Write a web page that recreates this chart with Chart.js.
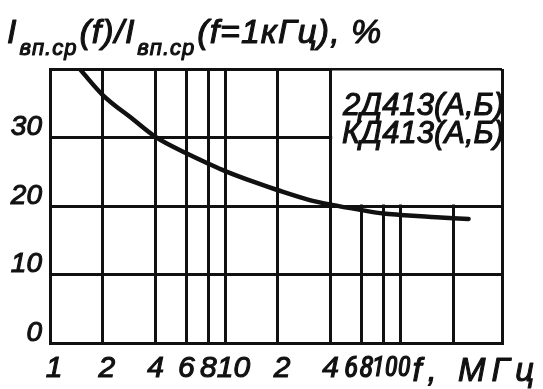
<!DOCTYPE html>
<html>
<head>
<meta charset="utf-8">
<script src="https://cdn.jsdelivr.net/npm/chart.js@4.4.1/dist/chart.umd.min.js"></script>
<style>
  html, body { margin: 0; padding: 0; background: #fff; }
</style>
</head>
<body>
<canvas id="chart" width="543" height="389"></canvas>
<script>
// f, MHz  ->  I(f)/I(f=1kHz), %
const freqMHz = [1.5, 2, 3, 4, 6, 8, 10, 15, 20, 30, 40, 60, 80, 100, 150, 200, 245];
const ratioPct = [39.8, 36.2, 32.6, 30.1, 27.7, 26.2, 25.1, 23.4, 22.3, 20.9, 20.2, 19.4, 18.9, 18.7, 18.4, 18.2, 18.1];

const xGridValues = [1, 2, 4, 6, 8, 10, 20, 40, 60, 80, 100, 200, 380];
const xTickLabels = ["1", "2", "4", "6", "8", "10", "2", "4", "6", "8", "100", "", ""];
const yTickValues = [0, 10, 20, 30, 40];
const yTickLabels = ["0", "10", "20", "30", ""];

const seriesLabels = ["2Д413(А,Б)", "КД413(А,Б)"];
const xAxisTitle = "f, МГц";
const yTitleParts = ["I", "вп.ср", "(f)/I", "вп.ср", "(f=1кГц), %"];

const INK = "#111";
const FAMILY = "'Liberation Sans', Arial, sans-serif";
const NARROW = "'Roboto Condensed', 'Liberation Sans', sans-serif";
const STROKE = 1.1; // thickens the thin italic to look like the stencil lettering

// hand-lettered labels sit a little off their grid lines (in spaces, + = right)
const xLabelShift = { 1: 1, 2: 1, 10: 2, 20: 1, 60: -3, 80: -5, 100: -3 };
const NB = "\u00a0";

function inkText(ctx, txt, x, y) {
    ctx.fillText(txt, x, y);
    ctx.strokeText(txt, x, y);
}

const annotations = {
    id: "annotations",
    beforeDatasetsDraw(chart) {
        // empty box for the type names, top right
        const { ctx, chartArea, scales } = chart;
        const x0 = scales.x.getPixelForValue(40) + 1.5;
        const y1 = scales.y.getPixelForValue(20) - 1.5;
        ctx.save();
        ctx.fillStyle = "#fff";
        ctx.fillRect(x0, chartArea.top + 1.5, chartArea.right - 1.5 - x0, y1 - chartArea.top - 1.5);
        ctx.restore();
    },
    afterDraw(chart) {
        const { ctx, chartArea, scales } = chart;
        ctx.save();
        ctx.fillStyle = INK;
        ctx.strokeStyle = INK;
        ctx.lineWidth = STROKE;
        ctx.lineJoin = "round";
        ctx.textBaseline = "alphabetic";

        // y title with subscripts
        let x = 7;
        ctx.letterSpacing = "1px";
        yTitleParts.forEach((txt, i) => {
            const sub = i % 2 === 1;
            ctx.font = sub ? `italic 22px ${FAMILY}` : `italic 34px ${FAMILY}`;
            inkText(ctx, txt, sub ? x + 2 : x, sub ? 55 : 43);
            x += ctx.measureText(txt).width + (sub ? 4 : 0);
        });
        ctx.letterSpacing = "0px";

        // type names
        ctx.font = `italic 31px ${FAMILY}`;
        ctx.textAlign = "right";
        seriesLabels.forEach((txt, i) => {
            inkText(ctx, txt, chartArea.right + 2, chartArea.top + 46 + i * 28);
        });

        // x title, on the tick label row
        ctx.textAlign = "left";
        ctx.font = `italic 33px ${FAMILY}`;
        ctx.letterSpacing = "6px";
        inkText(ctx, xAxisTitle, scales.x.getPixelForValue(100) + 12, chartArea.bottom + 38);
        ctx.restore();
    },
};

new Chart(document.getElementById("chart"), {
    type: "line",
    data: {
        datasets: [{
            label: seriesLabels.join(", "),
            data: freqMHz.map((f, i) => ({ x: f, y: ratioPct[i] })),
            borderColor: INK,
            borderWidth: 4.5,
            borderCapStyle: "round",
            pointRadius: 0,
            cubicInterpolationMode: "monotone",
            fill: false,
        }],
    },
    options: {
        responsive: false,
        animation: false,
        layout: { padding: { top: 69, right: 41, left: 0, bottom: 0 } },
        plugins: {
            legend: { display: false },
            tooltip: { enabled: false },
        },
        scales: {
            x: {
                type: "logarithmic",
                min: 1,
                max: 380,
                afterBuildTicks: (s) => { s.ticks = xGridValues.map((v) => ({ value: v })); },
                afterFit: (s) => { s.height = 46; },
                grid: { color: INK, lineWidth: 3, drawTicks: false },
                border: { color: INK, width: 3 },
                ticks: {
                    autoSkip: false,
                    maxRotation: 0,
                    padding: 8,
                    color: INK,
                    textStrokeColor: INK,
                    textStrokeWidth: STROKE,
                    font: (c) => {
                        const v = c.tick ? c.tick.value : 0;
                        if (v === 100) return { family: NARROW, size: 27, style: "italic", lineHeight: "36px" };
                        if (v === 60 || v === 80) return { family: NARROW, size: 30, style: "italic", lineHeight: "36px" };
                        return { family: FAMILY, size: 30, style: "italic", lineHeight: "36px" };
                    },
                    callback: (value, i) => {
                        const s = xTickLabels[i];
                        const n = xLabelShift[value] || 0;
                        return n > 0 ? NB.repeat(n) + s : s + NB.repeat(-n);
                    },
                },
            },
            y: {
                min: 0,
                max: 40,
                afterBuildTicks: (s) => { s.ticks = yTickValues.map((v) => ({ value: v })); },
                afterFit: (s) => { s.width = 50; },
                grid: { color: INK, lineWidth: 3, drawTicks: false },
                border: { color: INK, width: 3 },
                ticks: {
                    padding: 8,
                    labelOffset: -10,
                    color: INK,
                    textStrokeColor: INK,
                    textStrokeWidth: STROKE,
                    font: { family: FAMILY, size: 28, style: "italic" },
                    callback: (value, i) => yTickLabels[i],
                },
            },
        },
    },
    plugins: [annotations],
});
</script>
</body>
</html>
